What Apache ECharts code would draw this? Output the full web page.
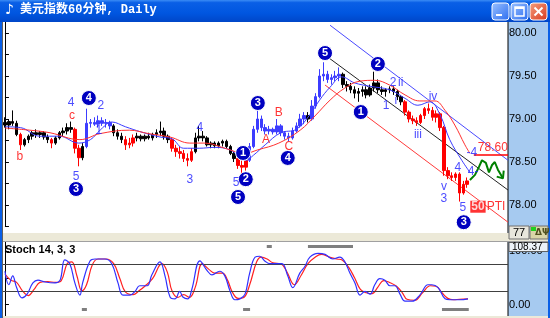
<!DOCTYPE html>
<html><head><meta charset="utf-8">
<script src="https://cdn.jsdelivr.net/npm/echarts@6/dist/echarts.min.js"></script>
<style>html,body{margin:0;padding:0;background:#fff}#c{width:550px;height:318px}</style>
</head><body><div id="c"></div>
<script>
// ---------- data ----------
const categories = Array.from({length:130}, (_, i) => String(i + 1));
const openP = [78.96,78.93,78.97,78.95,78.82,78.70,78.76,78.80,78.84,78.82, 78.84,78.79,78.76,78.72,78.78,78.84,78.86,78.90,78.88,78.66,
 78.55,78.68,78.95,78.96,78.94,78.98,78.95,78.96,78.92,78.84, 78.80,78.76,78.70,78.72,78.78,78.80,78.77,78.80,78.78,78.82,
 78.84,78.86,78.80,78.76,78.66,78.62,78.60,78.54,78.52,78.62, 78.78,78.80,78.78,78.70,78.72,78.69,78.72,78.74,78.68,78.60,
 78.54,78.46,78.44,78.52,78.68,78.88,79.00,78.90,78.86,78.88, 78.85,78.92,78.84,78.80,78.78,78.86,78.92,79.00,79.04,79.00,
 79.15,79.26,79.50,79.52,79.46,79.48,79.50,79.52,79.40,79.38, 79.34,79.30,79.32,79.34,79.28,79.36,79.42,79.34,79.32,79.34,
 79.35,79.32,79.26,79.20,79.08,79.00,78.98,78.96,79.04,79.12, 79.10,79.02,79.06,78.90,78.40,78.34,78.32,78.36,78.14,78.24];
const closeP = [78.93,78.97,78.95,78.82,78.70,78.76,78.80,78.84,78.82,78.84, 78.79,78.76,78.72,78.78,78.84,78.86,78.90,78.88,78.66,78.55,
 78.68,78.95,78.96,78.94,78.98,78.95,78.96,78.92,78.84,78.80, 78.76,78.70,78.72,78.78,78.80,78.77,78.80,78.78,78.82,78.84,
 78.86,78.80,78.76,78.66,78.62,78.60,78.54,78.52,78.62,78.78, 78.80,78.78,78.70,78.72,78.69,78.72,78.74,78.68,78.60,78.54,
 78.46,78.44,78.52,78.68,78.88,79.00,78.90,78.86,78.88,78.85, 78.92,78.84,78.80,78.78,78.86,78.92,79.00,79.04,79.00,79.15,
 79.26,79.50,79.52,79.46,79.48,79.50,79.52,79.40,79.38,79.34, 79.30,79.32,79.34,79.28,79.36,79.42,79.34,79.32,79.34,79.35,
 79.32,79.26,79.20,79.08,79.00,78.98,78.96,79.04,79.12,79.10, 79.02,79.06,78.90,78.40,78.34,78.32,78.36,78.14,78.24,78.28];
const highP = [79.02,79.00,79.10,78.98,78.84,78.78,78.82,78.86,78.88,78.86, 78.86,78.82,78.78,78.80,78.86,78.90,78.95,78.97,78.90,78.70,
 78.72,79.12,79.00,79.02,79.04,79.02,79.00,78.98,78.94,78.88, 78.84,78.80,78.78,78.82,78.84,78.82,78.82,78.84,78.84,78.88,
 78.97,78.90,78.82,78.78,78.70,78.68,78.64,78.60,78.66,78.84, 78.92,78.86,78.80,78.74,78.74,78.74,78.76,78.76,78.70,78.62,
 78.56,78.52,78.56,78.72,78.92,79.10,79.04,78.94,78.92,78.90, 79.00,78.94,78.86,78.84,78.90,78.96,79.06,79.08,79.08,79.22,
 79.30,79.58,79.66,79.56,79.52,79.56,79.60,79.54,79.44,79.42, 79.38,79.36,79.38,79.38,79.40,79.55,79.46,79.38,79.36,79.38,
 79.38,79.34,79.28,79.22,79.10,79.04,79.02,79.06,79.14,79.18, 79.14,79.10,79.08,78.92,78.44,78.38,78.38,78.38,78.28,78.32];
const lowP = [78.90,78.88,78.92,78.80,78.64,78.68,78.72,78.76,78.78,78.78, 78.76,78.72,78.66,78.70,78.76,78.80,78.82,78.84,78.60,78.45,
 78.52,78.66,78.90,78.92,78.90,78.92,78.90,78.88,78.80,78.76, 78.72,78.64,78.66,78.68,78.74,78.74,78.74,78.76,78.75,78.78,
 78.80,78.76,78.72,78.62,78.56,78.54,78.50,78.45,78.50,78.60, 78.74,78.74,78.68,78.66,78.66,78.66,78.68,78.66,78.58,78.50,
 78.42,78.36,78.40,78.50,78.66,78.84,78.86,78.82,78.82,78.82, 78.82,78.80,78.76,78.74,78.76,78.84,78.90,78.94,78.96,78.98,
 79.12,79.24,79.44,79.42,79.40,79.44,79.44,79.36,79.32,79.30, 79.24,79.20,79.26,79.24,79.26,79.32,79.30,79.28,79.26,79.30,
 79.28,79.22,79.16,79.04,78.96,78.94,78.92,78.94,79.00,79.06, 78.98,78.96,78.86,78.34,78.30,78.28,78.28,78.04,78.12,78.20];

// moving averages [barIndex, price]
const maBlue = [[0,78.91],[4,78.90],[9,78.80],[14,78.80],[19,78.72],[22,78.76],[24.5,78.87],[27.5,78.965],[31,78.91],[35,78.85],
 [40,78.79],[43,78.77],[46,78.66],[50,78.66],[54,78.67],[58,78.64],[62,78.52],[64,78.58],[67,78.70],[71,78.84],[75,78.88],
 [78.5,79.05],[81,79.22],[83.7,79.37],[86.7,79.49],[90,79.42],[94,79.38],[99,79.34],[103,79.24],[106.3,79.16],[109.4,79.20],
 [112,79.05],[114.5,78.76],[117.6,78.52],[119.7,78.38]];
const maRed = [[0,78.895],[6.4,78.87],[11.6,78.84],[19.3,78.76],[24.5,78.83],[32,78.87],[37,78.83],[42.5,78.79],[47.6,78.72],
 [51.5,78.72],[56.6,78.66],[61.8,78.60],[65,78.64],[70.5,78.72],[76,78.87],[79.8,79.035],[83.7,79.22],[87.5,79.36],[91.4,79.44],
 [95.2,79.45],[99,79.395],[103,79.28],[106.8,79.21],[110.7,79.21],[113.3,79.10],[115.8,78.93],[118.4,78.70],[119.7,78.60]];

// trend lines
const blueChannel = [[83.7,80.09],[129.5,78.52]];
const blackChannel = [[83.1,79.72],[129.5,78.174]];
const redChannel = [[82.4,79.395],[129.5,77.80]];
const targetLine = [[120.7,78.58],[129.5,78.58]];
const greenPath = [[119.7,78.29],[121.0,78.35],[122.0,78.44],[122.8,78.52],[123.8,78.49],[124.6,78.38],[125.4,78.465],[126.1,78.50],[126.9,78.41],[128.2,78.31]];
const greenArrow = [[126.6,78.33],[128.2,78.31],[128.4,78.40]];

// stochastic
const stochK = [[0,62.7],[1,37.3],[2,54.0],[3,32.0],[4.4,12.7],[5.7,19.7],[7.2,40.8],[8.5,46.0],[10.3,42.5],[12.9,40.8],[14.2,46.0],
 [15.4,83.8],[16.7,76.8],[18,40.8],[19.3,17.9],[20,40.8],[21.9,82.0],[23.2,85.6],[25.7,85.6],[27.5,76.8],[29.1,40.8],[30.4,17.9],
 [32.2,17.9],[33.5,25.0],[34.7,35.5],[36.6,35.5],[37.8,55.7],[39.9,80.3],[41.2,54.0],[42.5,14.4],[43.8,10.9],[45,25.0],[45.8,14.4],
 [47.1,10.9],[48.1,28.5],[50.2,82.0],[52,64.5],[53.3,55.7],[55.3,62.7],[56.6,54.0],[57.9,26.7],[59.2,9.2],[60.5,10.9],[61.8,19.7],
 [63,59.2],[64.4,89.1],[65.6,90.8],[66.9,82.0],[68.2,76.8],[69.5,76.8],[71.3,76.8],[72.8,54.0],[74.1,32.0],[75.9,59.2],[77.2,71.5],
 [78.5,89.1],[80.6,96.1],[82.4,94.3],[84.4,85.6],[86.2,89.1],[87.5,80.3],[88.8,59.2],[90.1,40.8],[91.4,17.9],[92.7,25.0],[94,19.7],
 [95.2,37.3],[96.5,48.7],[97.8,46.0],[99.1,35.5],[100.4,35.5],[101.7,19.7],[103,6.5],[104.8,6.5],[106.8,17.9],[108.9,37.3],
 [109.9,37.3],[111.5,32.0],[113.3,10.9],[114.5,9.2],[117.1,9.2],[119.2,10.9]];
const stochD = [[0,57.5],[1.5,46.0],[3,41.7],[4.5,25.9],[6,17.1],[7.5,28.5],[9,41.7],[11,43.4],[13,41.7],[14.5,45.2],[16,76.8],
 [17.2,80.3],[18.5,54.8],[19.8,25.9],[21,37.3],[22.5,75.0],[24,85.6],[26,85.6],[28,76.8],[29.6,48.7],[31,24.1],[33,18.8],[34.5,25.9],
 [36,34.6],[38,48.7],[40.4,76.8],[41.8,61.0],[43,25.9],[44.5,13.6],[46,18.8],[47.5,13.6],[49,32.9],[50.8,76.8],[52.5,66.2],[54,59.2],
 [56,59.2],[57.3,46.0],[58.5,24.1],[60,11.8],[61.5,13.6],[63,37.3],[64.8,80.3],[66,89.1],[67.5,85.6],[69,78.5],[71,76.8],[72.5,62.7],
 [74.5,37.3],[76.3,55.7],[78,76.8],[80,90.0],[81.5,94.3],[83.5,89.1],[85.5,85.6],[86.8,83.8],[88.5,69.8],[90,50.4],[91.5,28.5],
 [93,22.3],[94.5,20.6],[96,32.9],[97.5,45.2],[99,41.7],[100.8,34.6],[102.3,22.3],[103.5,10.1],[105.5,8.3],[107.5,22.3],[109.5,35.5],
 [111,34.6],[112.5,22.3],[114,11.8],[115.5,9.2],[117,10.1],[119.2,10.9]];
const stochLevels = [25, 75];
const cycleMarksTop = [[67.4,68.7],[78,89.6]];
const cycleMarksBottom = [[19.8,21.1],[61.3,63.1],[112.5,119.4]];

// annotations [barIndex, price, text]
const circled = [[18.3,78.186,'3'],[21.6,79.244,'4'],[61.3,78.605,'1'],[62.0,78.30,'2'],[60.0,78.093,'5'],[65.1,79.186,'3'],
 [72.8,78.547,'4'],[82.4,79.767,'5'],[91.6,79.081,'1'],[96.0,79.64,'2'],[118.1,77.80,'3']];
const blueTexts = [[17.0,79.186,'4'],[18.3,78.326,'5'],[24.7,79.151,'2'],[24.2,78.86,'1'],[47.6,78.30,'3'],[50.2,78.895,'4'],
 [59.5,78.256,'5'],[99.9,79.419,'2'],[101.9,79.419,'ii'],[98.1,79.151,'1'],[100.6,79.21,'i'],[110.2,79.256,'iv'],
 [106.3,78.814,'iii'],[113,78.21,'v'],[113,78.07,'3'],[116.6,78.43,'4'],[120.2,78.605,'-4'],[120.5,78.384,'4-'],[117.9,77.965,'5']];
const redTexts = [[3.86,78.558,'b'],[17.25,79.035,'c'],[67.2,78.756,'A'],[70.5,79.07,'B'],[73.1,78.674,'C'],[125.6,78.663,'78.60']];
const ptiTag = [124.3, 77.98, '50', 'PTI'];

// ---------- styling helpers ----------
const redRanges = [[4,4],[12,12],[18,19],[31,33],[43,48],[60,62],[103,119]];
const blueRanges = [[21,27],[63,77],[79,86]];
const inR = (i, rs) => rs.some(r => i >= r[0] && i <= r[1]);
const candleData = openP.map((o, i) => {
  const c = inR(i, redRanges) ? '#ff0000' : inR(i, blueRanges) ? '#3c3cff' : '#000000';
  return {value:[o, closeP[i], lowP[i], highP[i]], itemStyle:{color:c, color0:c, borderColor:c, borderColor0:c}};
});
const FONT = 'Liberation Sans';
const chart = echarts.init(document.getElementById('c'));
const lineS = (data, color, w, xi, yi, extra) => Object.assign({type:'line', data, xAxisIndex:xi, yAxisIndex:yi, symbol:'none',
  lineStyle:{color, width:w}, silent:true, animation:false}, extra || {});
const segs = (arr, v) => arr.map(r => ({coords:[[r[0], v], [r[1], v]]}));
const textSeries = (data, color) => ({type:'scatter', xAxisIndex:1, yAxisIndex:0, silent:true, z:8, symbolSize:1,
  itemStyle:{color:'rgba(0,0,0,0)'},
  label:{show:true, position:'inside', color, fontSize:12, fontFamily:FONT, formatter:p => p.data[2]}, data});

const titleGrad = new echarts.graphic.LinearGradient(0,0,0,1,[{offset:0,color:'#3b8cf5'},{offset:0.12,color:'#0a5fe6'},{offset:0.6,color:'#0056e0'},{offset:1,color:'#0046c8'}]);
const btnGrad = new echarts.graphic.LinearGradient(0,0,1,1,[{offset:0,color:'#9cc2ff'},{offset:1,color:'#2a6cf0'}]);
const closeGrad = new echarts.graphic.LinearGradient(0,0,1,1,[{offset:0,color:'#f5a080'},{offset:1,color:'#d8381c'}]);

chart.setOption({
  animation:false,
  backgroundColor:'#ece9d8',
  grid:[{left:3, top:11.5, width:505, height:215},{left:3, top:238, width:505, height:84}],
  xAxis:[
    {type:'category', gridIndex:0, data:categories, boundaryGap:true, show:false},
    {type:'value', gridIndex:0, min:-0.5, max:129.5, show:false},
    {type:'category', gridIndex:1, data:categories, boundaryGap:true, show:false},
    {type:'value', gridIndex:1, min:-0.5, max:129.5, show:false}
  ],
  yAxis:[
    {type:'value', gridIndex:0, position:'right', min:77.75, max:80.25, interval:0.25,
     axisLine:{show:true, lineStyle:{color:'#000'}}, axisTick:{show:true, length:4, lineStyle:{color:'#000'}},
     splitLine:{show:false},
     axisLabel:{margin:1, color:'#000', fontSize:11, fontFamily:FONT,
       formatter:v => (Math.abs(v*2 - Math.round(v*2)) < 1e-6 && v < 80.1 && v > 77.9) ? v.toFixed(2) : ''}},
    {type:'value', gridIndex:1, position:'right', min:-25, max:125, interval:25,
     axisLine:{show:true, lineStyle:{color:'#000'}}, axisTick:{show:true, length:4, lineStyle:{color:'#000'}},
     splitLine:{show:false},
     axisLabel:{margin:1, color:'#000', fontSize:11, fontFamily:FONT,
       formatter:v => (Math.abs(v) < 1e-6 ? '0.00' : Math.abs(v-100) < 1e-6 ? '100.00' : '')}}
  ],
  graphic:[
    {type:'rect', shape:{x:3,y:22,width:505,height:211}, style:{fill:'#fff'}, z:0, silent:true},
    {type:'rect', shape:{x:508,y:22,width:40,height:211}, style:{fill:'#a6caf0'}, z:0, silent:true},
    {type:'rect', shape:{x:3,y:242,width:505,height:74}, style:{fill:'#fff'}, z:0, silent:true},
    {type:'rect', shape:{x:508,y:242,width:40,height:74}, style:{fill:'#a6caf0'}, z:0, silent:true},
    {type:'line', shape:{x1:508,y1:22,x2:508,y2:233}, style:{stroke:'#000',lineWidth:1}, z:1, silent:true},
    {type:'line', shape:{x1:508,y1:242,x2:508,y2:316}, style:{stroke:'#000',lineWidth:1}, z:1, silent:true},
    {type:'rect', shape:{x:0,y:233,width:550,height:9}, style:{fill:'#ece9d8'}, z:60, silent:true},
    {type:'line', shape:{x1:3,y1:241.5,x2:548,y2:241.5}, style:{stroke:'#a0a0a0',lineWidth:1}, z:61, silent:true},
    {type:'rect', shape:{x:509,y:226,width:20,height:13}, style:{fill:'#e8e6dc', stroke:'#707070', lineWidth:1}, z:62, silent:true},
    {type:'text', x:513, y:227, style:{text:'77', fill:'#000', font:'11px "Liberation Sans"'}, z:63, silent:true},
    {type:'rect', shape:{x:530,y:226,width:18,height:13}, style:{fill:'#d8d4a8', stroke:'#707070', lineWidth:1}, z:62, silent:true},
    {type:'rect', shape:{x:531,y:227,width:5,height:4}, style:{fill:'#20d020'}, z:63, silent:true},
    {type:'text', x:535, y:228, style:{text:'ΔΨ', fill:'#505020', font:'bold 9px "DejaVu Sans"'}, z:63, silent:true},
    {type:'rect', shape:{x:509,y:242.5,width:39,height:9}, style:{fill:'#eef3f8', stroke:'#606060', lineWidth:1}, z:62, silent:true},
    {type:'text', x:512, y:242, style:{text:'108.37', fill:'#000', font:'10px "Liberation Sans"'}, z:63, silent:true},
    {type:'text', x:5, y:244, style:{text:'Stoch 14, 3, 3', fill:'#000', font:'bold 11px "Liberation Sans"'}, z:63, silent:true},
    {type:'rect', shape:{x:0,y:316,width:550,height:2}, style:{fill:'#ece9d8'}, z:60, silent:true},
    {type:'rect', shape:{x:0,y:22,width:3,height:296}, style:{fill:'#0a5fe6'}, z:60, silent:true},
    {type:'line', shape:{x1:2.5,y1:22,x2:2.5,y2:318}, style:{stroke:'#606060',lineWidth:1}, z:61, silent:true},
    {type:'rect', shape:{x:548,y:22,width:2,height:296}, style:{fill:'#0a5fe6'}, z:60, silent:true},
    {type:'rect', shape:{x:0,y:0,width:550,height:22}, style:{fill:titleGrad}, z:100, silent:true},
    {type:'text', x:5, y:3, style:{text:'♪', fill:'#fff', font:'bold 14px "DejaVu Sans"'}, z:101, silent:true},
    {type:'text', x:20, y:4, style:{text:'美元指数60分钟, Daily', fill:'#fff', font:'bold 12px "Liberation Mono", "Noto Sans CJK SC"',
      textShadowColor:'#0a1f6a', textShadowOffsetX:1, textShadowOffsetY:1, textShadowBlur:0}, z:101, silent:true},
    {type:'rect', shape:{x:492,y:3,width:17,height:17,r:3}, style:{fill:btnGrad, stroke:'#fff', lineWidth:1}, z:101, silent:true},
    {type:'rect', shape:{x:496,y:14,width:6,height:2}, style:{fill:'#fff'}, z:102, silent:true},
    {type:'rect', shape:{x:511,y:3,width:17,height:17,r:3}, style:{fill:btnGrad, stroke:'#fff', lineWidth:1}, z:101, silent:true},
    {type:'rect', shape:{x:515,y:7,width:9,height:9}, style:{fill:'none', stroke:'#fff', lineWidth:1.5}, z:102, silent:true},
    {type:'rect', shape:{x:515,y:7,width:9,height:2}, style:{fill:'#fff'}, z:102, silent:true},
    {type:'rect', shape:{x:530,y:3,width:17,height:17,r:3}, style:{fill:closeGrad, stroke:'#fff', lineWidth:1}, z:101, silent:true},
    {type:'line', shape:{x1:534.5,y1:7.5,x2:542.5,y2:15.5}, style:{stroke:'#fff', lineWidth:2}, z:102, silent:true},
    {type:'line', shape:{x1:542.5,y1:7.5,x2:534.5,y2:15.5}, style:{stroke:'#fff', lineWidth:2}, z:102, silent:true}
  ],
  series:[
    {type:'candlestick', xAxisIndex:0, yAxisIndex:0, data:candleData, barWidth:3, silent:true, z:3},
    lineS(maBlue, '#3c3cff', 1, 1, 0, {smooth:0.4, z:4}),
    lineS(maRed, '#ff3030', 1, 1, 0, {smooth:0.4, z:4}),
    lineS(blueChannel, '#4a4aff', 1, 1, 0),
    lineS(blackChannel, '#222', 1, 1, 0),
    lineS(redChannel, '#ff3a3a', 1, 1, 0),
    lineS(targetLine, '#ff0000', 1.5, 1, 0),
    lineS(greenPath, '#008000', 2, 1, 0, {z:6}),
    lineS(greenArrow, '#008000', 2, 1, 0, {z:6}),
    {type:'scatter', xAxisIndex:1, yAxisIndex:0, silent:true, z:8, symbol:'circle', symbolSize:15,
     itemStyle:{color:'#0000c0', borderColor:'#ffffff', borderWidth:1, opacity:1},
     label:{show:true, position:'inside', color:'#fff', fontWeight:'bold', fontSize:11, fontFamily:FONT, formatter:p => p.data[2]},
     data:circled},
    textSeries(blueTexts, '#2020ff'),
    textSeries(redTexts, '#ff0000'),
    {type:'scatter', xAxisIndex:1, yAxisIndex:0, silent:true, z:8, symbolSize:1, itemStyle:{color:'rgba(0,0,0,0)'},
     label:{show:true, position:'inside', formatter:p => '{a|' + p.data[2] + '}{b|' + p.data[3] + '}',
       rich:{a:{backgroundColor:'#ff0000', color:'#fff', fontWeight:'bold', fontSize:12, fontFamily:FONT, padding:[0,1,0,1]},
             b:{color:'#ff0000', fontSize:12, fontFamily:FONT, padding:[0,0,0,1]}}},
     data:[ptiTag]},
    lineS(stochD, '#ff2020', 1.2, 3, 1, {smooth:0.4, z:4}),
    lineS(stochK, '#3030ff', 1.2, 3, 1, {smooth:0.4, z:5,
      markLine:{silent:true, symbol:'none', label:{show:false}, lineStyle:{color:'#404040', width:1, type:'solid'},
        data:stochLevels.map(v => ({yAxis:v}))}}),
    {type:'lines', coordinateSystem:'cartesian2d', xAxisIndex:3, yAxisIndex:1, silent:true, z:6,
     lineStyle:{color:'#000', width:3}, data:segs(cycleMarksTop, 108.9).concat(segs(cycleMarksBottom, -8.9))}
  ]
});
</script></body></html>
